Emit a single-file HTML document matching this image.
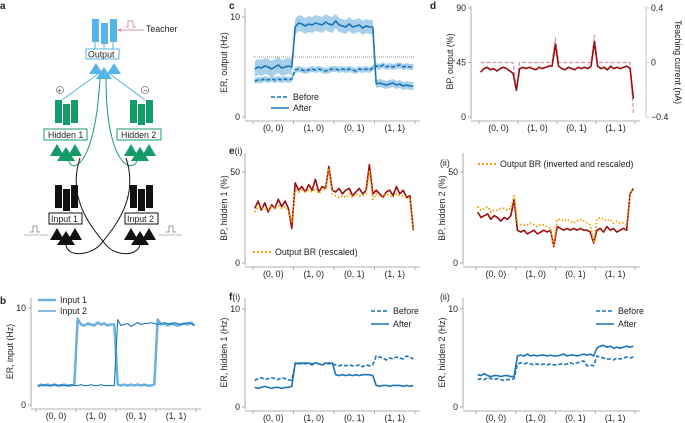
<!DOCTYPE html>
<html><head><meta charset="utf-8"><style>
body{margin:0;background:#fff}
svg{display:block;font-family:"Liberation Sans",sans-serif}
text{fill:#222}
.t{font-size:8.8px}
.L{font-size:10px;font-weight:bold}
</style></head><body>
<svg id="fig" width="685" height="423" viewBox="0 0 685 423">
<g>
<text class="L" x="0" y="9">a</text>
<g fill="#56b4e9">
<rect x="92" y="19" width="7" height="23"/><rect x="101" y="23" width="7" height="21"/><rect x="110" y="19" width="7" height="23"/>
</g>
<path d="M95 42V49M104 44V49M113 42V49" stroke="#56b4e9"/>
<path d="M125 27h3v-6h5v6h3" fill="none" stroke="#d88fb0"/>
<path d="M144 30H118" stroke="#d88fb0"/><path d="M117 30l4-2v4z" fill="#d88fb0"/>
<text class="t" x="146" y="32">Teacher</text>
<rect x="86" y="49" width="33" height="10" fill="#fff" stroke="#56b4e9"/>
<text class="t" x="88" y="57.5">Output</text>
<path d="M89 74l7-11 7 11zM107 74l7-11 7 11zM96 79l8-12 8 12z" fill="#56b4e9"/>
<path d="M98 74L62 100M110 74L145 100" stroke="#56b4e9"/>
<circle cx="60" cy="90" r="3.5" fill="#fff" stroke="#444" stroke-width="0.6"/><text x="57.5" y="93" style="font-size:7px">+</text>
<circle cx="145" cy="90" r="3.5" fill="#fff" stroke="#444" stroke-width="0.6"/><text x="143" y="92.5" style="font-size:7px">−</text>
<g fill="#159a6a"><rect x="55" y="100" width="7" height="23"/><rect x="63" y="104" width="7" height="21"/><rect x="71" y="100" width="7" height="23"/>
<rect x="130" y="100" width="7" height="23"/><rect x="138" y="104" width="7" height="21"/><rect x="146" y="100" width="7" height="23"/></g>
<rect x="44" y="129" width="43" height="11" fill="#fff" stroke="#159a6a"/>
<text class="t" x="48" y="138">Hidden 1</text>
<rect x="117" y="129" width="44" height="11" fill="#fff" stroke="#159a6a"/>
<text class="t" x="121" y="138">Hidden 2</text>
<path d="M50 156l7-12 7 12zM68 156l7-12 7 12zM57 161l9-14 9 14zM124 156l7-12 7 12zM142 156l7-12 7 12zM131 161l9-14 9 14z" fill="#159a6a"/>
<path d="M68 158C70 175 95 170 100 78M138 158C135 175 106 170 106 78" fill="none" stroke="#159a6a"/>
<g fill="#111"><rect x="55" y="185" width="7" height="23"/><rect x="63" y="189" width="7" height="22"/><rect x="71" y="185" width="7" height="23"/>
<rect x="130" y="185" width="7" height="23"/><rect x="138" y="189" width="7" height="22"/><rect x="146" y="185" width="7" height="23"/></g>
<rect x="49" y="213" width="33" height="11" fill="#fff" stroke="#111"/>
<text class="t" x="51" y="222">Input 1</text>
<rect x="125" y="213" width="33" height="11" fill="#fff" stroke="#111"/>
<text class="t" x="127" y="222">Input 2</text>
<path d="M50 240l7-12 7 12zM68 240l7-12 7 12zM57 245l9-14 9 14zM124 240l7-12 7 12zM142 240l7-12 7 12zM131 245l9-14 9 14z" fill="#111"/>
<path d="M66 245C68 258 90 255 100 245C112 230 140 200 126 158M140 245C136 258 114 255 106 245C94 230 66 200 80 158" fill="none" stroke="#111"/>
<path d="M24 235h24M158 235h24" stroke="#bbb"/>
<path d="M30 232h3v-6h4v6h3M166 232h3v-6h4v6h3" fill="none" stroke="#999"/>
</g>
<text class="L" x="0" y="304">b</text>
<text class="L" x="229" y="9">c</text>
<text class="L" x="430" y="9">d</text>
<text x="229" y="154"><tspan class="L">e</tspan><tspan class="t">(i)</tspan></text>
<text class="t" x="440" y="166">(ii)</text>
<text x="229" y="300"><tspan class="L">f</tspan><tspan class="t">(i)</tspan></text>
<text class="t" x="440" y="300">(ii)</text>
<g id="charts"></g>
</svg>
<script>
const categories = ["(0, 0)", "(1, 0)", "(0, 1)", "(1, 1)"];
const bInput1 = [2.0,2.1,2.0,2.1,2.0,2.1,2.0,2.0,2.1,2.0,2.0,2.1, 8.9,8.3,8.2,8.4,8.3,8.2,8.5,8.3,8.4,8.2,8.3,8.3, 2.1,2.0,2.1,2.0,2.1,2.0,2.1,2.0,2.1,2.0,2.0,2.1, 8.8,8.3,8.4,8.2,8.4,8.3,8.2,8.3,8.4,8.3,8.5,8.2];
const bInput2 = [1.9,2.0,2.1,2.0,2.0,2.1,2.0,2.1,2.0,2.0,2.1,2.0, 2.0,2.1,2.0,2.0,2.1,2.0,2.0,2.1,2.0,2.0,2.0,2.0, 8.8,8.2,8.3,8.4,8.1,8.3,8.5,8.3,8.4,8.4,8.5,8.4, 8.3,8.4,8.5,8.4,8.3,8.5,8.4,8.3,8.4,8.5,8.4,8.2];
const cAfter = [4.8,5.0,4.9,5.1,5.0,4.8,5.0,5.2,4.9,5.0,5.1,5.0, 9.0,9.4,9.3,9.1,9.3,9.2,9.4,9.3,9.2,9.5,9.3,9.2, 9.6,9.2,9.1,9.0,9.3,9.0,9.1,9.2,8.9,9.1,9.0,9.0, 3.3,3.4,3.3,3.2,3.3,3.4,3.2,3.3,3.1,3.2,3.1,3.1];
const cAfterErr = [0.8,0.8,0.7,0.4];
const cBefore = [3.6,3.7,3.7,3.8,3.7,3.8,3.7,3.8,3.7,3.8,3.7,3.8, 4.7,4.8,4.7,4.6,4.7,4.8,4.7,4.8,4.7,4.6,4.7,4.8, 4.8,4.7,4.8,4.7,4.8,4.7,4.6,4.8,4.7,4.8,4.7,4.9, 5.1,5.0,5.2,5.0,5.1,5.0,5.1,5.2,5.0,5.1,5.0,5.0];
const cBeforeErr = [0.3,0.3,0.3,0.3];
const cThreshold = 6;
const dBP = [37,40,41,39,40,38,40,41,40,38,36,22, 40,41,40,41,40,39,41,40,41,42,42,60, 42,40,39,41,40,39,41,40,41,40,42,62, 42,40,41,39,42,40,41,40,41,42,40,15];
const dTeach = [0,0,0,0,0,0,0,0,0,0,0,-0.2, 0,0,0,0,0,0,0,0,0,0,0,0.18, 0,0,0,0,0,0,0,0,0,0,0,0.2, 0,0,0,0,0,0,0,0,0,0,0,-0.37];
const eiBP = [30,34,29,33,28,32,30,35,31,34,30,19, 44,40,42,39,43,40,46,39,42,41,53,40, 39,41,38,40,41,37,39,41,38,40,54,38, 40,38,36,39,40,37,42,38,40,36,37,18];
const eiOut = [28,31,30,30,29,31,30,32,30,31,29,22, 40,39,40,39,40,39,41,38,41,40,52,38, 37,36,37,36,38,36,38,37,37,38,51,35, 38,37,36,38,37,36,38,37,37,36,36,18];
const eiiBP = [28,25,26,27,24,26,25,23,25,24,26,35, 18,17,18,16,17,18,16,17,18,17,18,9, 20,19,18,19,18,19,18,19,18,18,17,11, 18,19,17,20,18,19,17,18,19,18,38,41];
const eiiOut = [31,29,30,31,28,29,29,30,30,29,30,37, 22,21,21,21,22,21,20,21,21,20,19,9, 24,24,23,24,23,22,23,24,23,22,21,11, 24,25,24,23,24,22,23,22,22,21,38,41];
const fiBefore = [2.7,2.9,3.0,2.8,2.9,3.0,2.9,2.8,3.0,2.9,2.8,2.7, 4.4,4.5,4.4,4.5,4.4,4.3,4.5,4.4,4.3,4.4,4.5,4.4, 4.3,4.2,4.3,4.2,4.3,4.2,4.2,4.3,4.1,4.3,4.2,4.3, 5.2,5.1,5.0,4.8,5.0,4.9,5.1,5.0,4.9,5.2,5.1,4.9];
const fiAfter = [2.0,1.9,2.0,2.1,2.0,1.9,2.0,2.0,1.9,2.0,2.0,2.1, 4.5,4.4,4.5,4.4,4.5,4.4,4.5,4.4,4.3,4.5,4.4,4.5, 3.3,3.2,3.3,3.2,3.3,3.2,3.3,3.2,3.3,3.3,3.3,3.2, 2.2,2.1,2.2,2.2,2.1,2.2,2.2,2.2,2.1,2.2,2.1,2.2];
const fiiBefore = [2.8,2.9,2.8,3.0,2.9,2.8,2.9,2.8,2.7,2.8,2.8,2.9, 4.4,4.5,4.4,4.5,4.4,4.3,4.4,4.3,4.4,4.3,4.4,4.3, 4.3,4.4,4.3,4.4,4.5,4.4,4.5,4.6,4.7,4.2,4.3,4.2, 5.2,5.1,5.0,4.9,4.9,4.8,5.0,4.9,5.0,5.1,5.0,5.1];
const fiiAfter = [3.3,3.2,3.4,3.2,3.1,3.2,3.2,3.1,3.2,3.2,3.1,3.1, 5.2,5.3,5.2,5.4,5.2,5.3,5.2,5.3,5.3,5.2,5.3,5.2, 5.2,5.3,5.4,5.2,5.3,5.3,5.2,5.3,5.4,5.3,5.4,5.2, 6.0,6.2,6.3,6.1,6.2,6.0,6.1,6.0,6.1,6.2,6.1,6.2];
const erTicks = [0, 10];
const bpOutTicks = [0, 45, 90];
const teachTicks = [-0.4, 0, 0.4];
const bpHidTicks = [0, 50];
</script>
<script>
const NS = "http://www.w3.org/2000/svg";
const root = document.getElementById("charts");
function mk(tag, attrs, parent) {
  const e = document.createElementNS(NS, tag);
  for (const k in attrs) e.setAttribute(k, attrs[k]);
  (parent || root).appendChild(e);
  return e;
}
function panel(name, cfg) {
  const g = mk("g", {});
  
  
  const sx = i => cfg.x0 + (Math.floor(i / 12) + ((i % 12) + 0.5) / 12) * (cfg.x1 - cfg.x0) / 4;
  const sy = v => cfg.y0 - (v - cfg.vmin) / (cfg.vmax - cfg.vmin) * (cfg.y0 - cfg.yTop);
  const ax = mk("path", {d: `M${cfg.sx} ${cfg.top}V${cfg.y0 + 2}`, stroke: "#999", "stroke-width": 0.8, fill: "none"}, g);
  
  
  cfg.yticks.forEach(v => {
    mk("path", {d: `M${cfg.sx - 3} ${sy(v)}H${cfg.sx}`, stroke: "#999", "stroke-width": 0.8}, g);
    const t = mk("text", {x: cfg.sx - 5, y: sy(v) + 3, "text-anchor": "end", class: "t"}, g);
    t.textContent = String(v);
    
    
  });
  const xa = mk("path", {d: `M${cfg.sx} ${cfg.y0 + 4}H${cfg.x1 + 5}`, stroke: "#999", "stroke-width": 0.8}, g);
  
  
  for (let k = 0; k <= 4; k++) {
    const x = cfg.x0 + k * (cfg.x1 - cfg.x0) / 4;
    mk("path", {d: `M${x} ${cfg.y0 + 4}v3`, stroke: "#999", "stroke-width": 0.8}, g);
  }
  categories.forEach((c, k) => {
    const t = mk("text", {x: cfg.x0 + (k + 0.5) * (cfg.x1 - cfg.x0) / 4, y: cfg.y0 + 14, "text-anchor": "middle", class: "t"}, g);
    t.textContent = c;
    
    
  });
  const yt = mk("text", {transform: `translate(${cfg.sx - 18},${(cfg.top + cfg.y0) / 2}) rotate(-90)`, "text-anchor": "middle", class: "t"}, g);
  yt.textContent = cfg.title;
  
  
  return {g, sx, sy};
}
function line(p, arr, attrs, name, syf) {
  const f = syf || p.sy;
  const d = arr.map((v, i) => (i ? "L" : "M") + p.sx(i).toFixed(1) + " " + f(v).toFixed(1)).join("");
  const e = mk("path", Object.assign({d, fill: "none", "stroke-linejoin": "round"}, attrs), p.g);
  
  
}
function band(p, arr, err, color, name) {
  const up = arr.map((v, i) => p.sx(i).toFixed(1) + " " + p.sy(v + err[Math.floor(i / 12)]).toFixed(1));
  const dn = arr.map((v, i) => p.sx(i).toFixed(1) + " " + p.sy(v - err[Math.floor(i / 12)]).toFixed(1)).reverse();
  const e = mk("path", {d: "M" + up.join("L") + "L" + dn.join("L") + "Z", fill: color, opacity: 0.6}, p.g);
  
  
}
function legend(p, x, y, text, attrs, name) {
  const l = mk("path", Object.assign({d: `M${x} ${y}h18`}, attrs), p.g);
  
  
  const t = mk("text", {x: x + 22, y: y + 3, class: "t"}, p.g);
  t.textContent = text;
  
  
}
const BL = "#1a74b5", LB = "#6ab0de", RED = "#9b0d0d", PINK = "#d88fb0", OR = "#f0a000";
const pb = panel("panel-b-chart", {x0: 36, x1: 196, sx: 31, y0: 405, yTop: 308, top: 298, vmin: 0, vmax: 10, yticks: erTicks, title: "ER, input (Hz)"});
line(pb, bInput1, {stroke: LB, "stroke-width": 2.5}, "input1-line");
line(pb, bInput2, {stroke: BL, "stroke-width": 1.1}, "input2-line");
legend(pb, 38, 300, "Input 1", {stroke: LB, "stroke-width": 2.5}, "legend-input1");
legend(pb, 38, 311, "Input 2", {stroke: BL, "stroke-width": 1.1}, "legend-input2");
const pc = panel("panel-c-chart", {x0: 253, x1: 415, sx: 245, y0: 117, yTop: 17, top: 8, vmin: 0, vmax: 10, yticks: erTicks, title: "ER, output (Hz)"});
mk("path", {d: `M253 ${pc.sy(cThreshold)}H415`, stroke: "#333", "stroke-width": 0.6, "stroke-dasharray": "1 1"}, pc.g);
band(pc, cBefore, cBeforeErr, LB, "before-band");
band(pc, cAfter, cAfterErr, LB, "after-band");
line(pc, cBefore, {stroke: BL, "stroke-width": 1.6, "stroke-dasharray": "4 2"}, "before-line");
line(pc, cAfter, {stroke: BL, "stroke-width": 1.6}, "after-line");
legend(pc, 271, 97, "Before", {stroke: BL, "stroke-width": 1.6, "stroke-dasharray": "4 2"}, "legend-before");
legend(pc, 271, 108, "After", {stroke: BL, "stroke-width": 1.6}, "legend-after");
const pd = panel("panel-d-chart", {x0: 479, x1: 635, sx: 471, y0: 117, yTop: 8, top: 6, vmin: 0, vmax: 90, yticks: bpOutTicks, title: "BP, output (%)"});
const syT = v => 117 - (v + 0.4) / 0.8 * 109;
mk("path", {d: "M646 6V117", stroke: "#bbb", "stroke-width": 0.8}, pd.g);
teachTicks.forEach(v => {
  mk("path", {d: `M646 ${syT(v)}h3`, stroke: "#bbb", "stroke-width": 0.8}, pd.g);
  const t = mk("text", {x: 651, y: syT(v) + 3, class: "t"}, pd.g);
  t.textContent = v === 0 ? "0" : (v < 0 ? "−" + Math.abs(v) : String(v));
  
  
});
const rt = mk("text", {transform: "translate(675,62) rotate(90)", "text-anchor": "middle", class: "t"}, pd.g);
rt.textContent = "Teaching current (nA)";


line(pd, dTeach, {stroke: PINK, "stroke-width": 1.2, "stroke-dasharray": "4 2"}, "teaching-current-line", syT);
line(pd, dBP, {stroke: RED, "stroke-width": 1.6}, "bp-output-line");
const pe1 = panel("panel-ei-chart", {x0: 253, x1: 415, sx: 245, y0: 263, yTop: 172, top: 153, vmin: 0, vmax: 50, yticks: bpHidTicks, title: "BP, hidden 1 (%)"});
line(pe1, eiBP, {stroke: RED, "stroke-width": 1.6}, "bp-hidden1-line");
line(pe1, eiOut, {stroke: OR, "stroke-width": 1.8, "stroke-dasharray": "1.5 2"}, "output-br-line");
legend(pe1, 253, 252, "Output BR (rescaled)", {stroke: OR, "stroke-width": 2, "stroke-dasharray": "2 2"}, "legend-output-br");
const pe2 = panel("panel-eii-chart", {x0: 476, x1: 635, sx: 463, y0: 263, yTop: 172, top: 153, vmin: 0, vmax: 50, yticks: bpHidTicks, title: "BP, hidden 2 (%)"});
line(pe2, eiiBP, {stroke: RED, "stroke-width": 1.6}, "bp-hidden2-line");
line(pe2, eiiOut, {stroke: OR, "stroke-width": 1.8, "stroke-dasharray": "1.5 2"}, "output-br-inverted-line");
legend(pe2, 478, 164, "Output BR (inverted and rescaled)", {stroke: OR, "stroke-width": 2, "stroke-dasharray": "2 2"}, "legend-output-br-inverted");
const pf1 = panel("panel-fi-chart", {x0: 253, x1: 415, sx: 245, y0: 407, yTop: 309, top: 298, vmin: 0, vmax: 10, yticks: erTicks, title: "ER, hidden 1 (Hz)"});
line(pf1, fiBefore, {stroke: BL, "stroke-width": 1.6, "stroke-dasharray": "4 2"}, "before-line");
line(pf1, fiAfter, {stroke: BL, "stroke-width": 1.6}, "after-line");
legend(pf1, 371, 311, "Before", {stroke: BL, "stroke-width": 1.6, "stroke-dasharray": "4 2"}, "legend-before");
legend(pf1, 371, 324, "After", {stroke: BL, "stroke-width": 1.6}, "legend-after");
const pf2 = panel("panel-fii-chart", {x0: 476, x1: 635, sx: 463, y0: 407, yTop: 309, top: 298, vmin: 0, vmax: 10, yticks: erTicks, title: "ER, hidden 2 (Hz)"});
line(pf2, fiiBefore, {stroke: BL, "stroke-width": 1.6, "stroke-dasharray": "4 2"}, "before-line");
line(pf2, fiiAfter, {stroke: BL, "stroke-width": 1.6}, "after-line");
legend(pf2, 596, 311, "Before", {stroke: BL, "stroke-width": 1.6, "stroke-dasharray": "4 2"}, "legend-before");
legend(pf2, 596, 324, "After", {stroke: BL, "stroke-width": 1.6}, "legend-after");
</script>
</body></html>
